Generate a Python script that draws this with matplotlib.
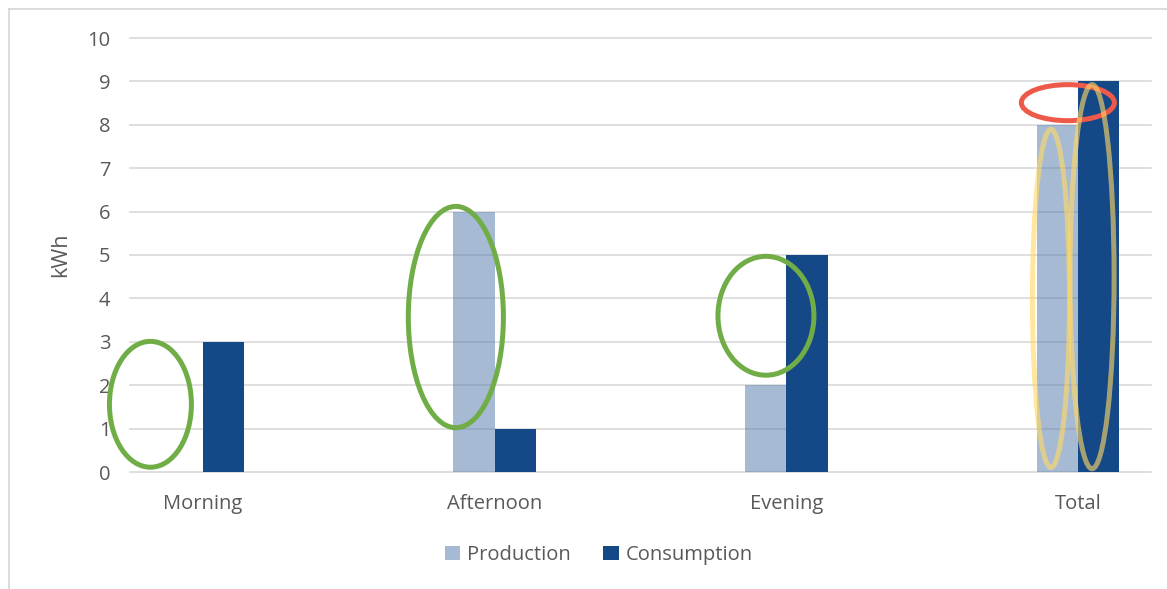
import matplotlib
matplotlib.use("Agg")
import matplotlib.pyplot as plt
from matplotlib.patches import Ellipse
from matplotlib.lines import Line2D
import numpy as np

periods = ["Morning", "Afternoon", "Evening", "Total"]
production = [0, 6, 2, 8]
consumption = [3, 1, 5, 9]

# highlight rings: (x centre, y centre, width, height) in data units
green_rings = [(-0.18, 1.56, 0.281, 2.90),
               (0.867, 3.57, 0.326, 5.10),
               (1.930, 3.60, 0.329, 2.74)]
red_ring = (2.965, 8.51, 0.319, 0.83)
gold_rings = [(2.907, 4.00, 0.127, 7.79),
              (3.048, 4.50, 0.151, 8.85)]

plt.rcParams['font.family'] = ['Open Sans', 'DejaVu Sans']
text_col = '#595959'
grid_col = '#D9D9D9'

fig = plt.figure(figsize=(11.67, 5.89), dpi=100)
ax = fig.add_axes([130 / 1167, 1 - 472 / 589, 1021 / 1167, 434 / 589])

x = np.arange(len(periods))
w = 0.142
ax.bar(x - w / 2, production, w, color='#4E76A8', alpha=0.5, label='Production', zorder=3)
ax.bar(x + w / 2, consumption, w, color='#144886', label='Consumption', zorder=3)

ax.set_xlim(-0.25, 3.25)
ax.set_ylim(0, 10)
ax.set_yticks(range(0, 11))
ax.set_xticks(x)
ax.set_xticklabels(periods)
ax.tick_params(length=0, labelsize=14.5, labelcolor=text_col)
ax.tick_params(axis='y', pad=14)
ax.tick_params(axis='x', pad=16)
for s in ax.spines.values():
    s.set_visible(False)
ax.yaxis.grid(True, color=grid_col, lw=1.2, zorder=0)
for gl in ax.get_ygridlines():
    gl.set_clip_on(False)
ax.set_axisbelow(True)

ax.set_ylabel('kWh', fontsize=15.5, color=text_col)
ax.yaxis.set_label_coords(-0.058, 0.5)

for xc, yc, ew, eh in green_rings:
    ax.add_patch(Ellipse((xc, yc), ew, eh, fill=False, edgecolor='#70AD47',
                         lw=3.6, zorder=5, clip_on=False))
xc, yc, ew, eh = red_ring
ax.add_patch(Ellipse((xc, yc), ew, eh, fill=False, edgecolor='#EE5A4A',
                     lw=3.6, zorder=5, clip_on=False))
for xc, yc, ew, eh in gold_rings:
    ax.add_patch(Ellipse((xc, yc), ew, eh, fill=False, edgecolor='#FFD966',
                         alpha=0.62, lw=3.6, zorder=6, clip_on=False))

leg = fig.legend(loc='center', bbox_to_anchor=(599 / 1167, 1 - 555 / 589),
                 ncol=2, frameon=False, fontsize=14.5, handlelength=0.75,
                 handleheight=0.75, handletextpad=0.35, columnspacing=1.6)
for t in leg.get_texts():
    t.set_color(text_col)

# chart area frame
bx, by = 9 / 1167, 1 - 9 / 589
fig.add_artist(Line2D([bx, bx], [0, by], transform=fig.transFigure, color=grid_col, lw=1.3))
fig.add_artist(Line2D([bx, 1], [by, by], transform=fig.transFigure, color=grid_col, lw=1.3))

fig.savefig('out.png', dpi=100)
